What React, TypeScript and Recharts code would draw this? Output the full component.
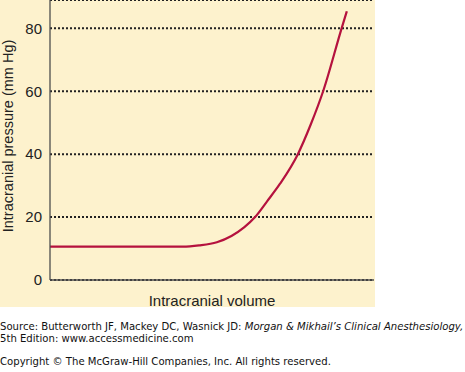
import React from "react";
import { LineChart, Line, XAxis, YAxis, CartesianGrid } from "recharts";

// (x: arbitrary volume units 0-100)
const volume = [0, 41, 46, 51.5, 56, 60, 63.3, 67, 71, 76.5, 80.5, 84.3, 90, 91.6];
const pressure = [10.6, 10.6, 11, 12, 14, 16.8, 20, 25, 30.6, 40, 49.5, 60, 80, 85.4];
const yTicks = [0, 20, 40, 60, 80];

const data = volume.map((v, i) => ({ volume: v, pressure: pressure[i] }));

const BEIGE = "#fdf2cd";
const RED = "#b5123e";
const AXIS = "#4d4d4d";
const TEXT = "#222";
const FONT = "'Liberation Sans', Arial, Helvetica, sans-serif";

const renderYLabel = (props: any) => {
  const { viewBox } = props;
  const x = viewBox.x + 13;
  const y = viewBox.y + viewBox.height / 2 - 4;
  return (
    <text
      x={x}
      y={y}
      transform={`rotate(-90, ${x}, ${y})`}
      textAnchor="middle"
      fill={TEXT}
      fontSize={14.5}
      fontFamily={FONT}
    >
      Intracranial pressure (mm Hg)
    </text>
  );
};

const renderXLabel = (props: any) => {
  const { viewBox } = props;
  return (
    <text
      x={viewBox.x + viewBox.width / 2}
      y={viewBox.y + 26}
      textAnchor="middle"
      fill={TEXT}
      fontSize={15}
      fontFamily={FONT}
    >
      Intracranial volume
    </text>
  );
};

export default function App() {
  return (
    <div
      style={{
        position: "absolute",
        left: 0,
        top: 0,
        width: 465,
        height: 372,
        background: "#fff",
        overflow: "hidden",
      }}
    >
      <div
        style={{
          position: "absolute",
          left: 0,
          top: 0,
          width: 375,
          height: 307,
          background: BEIGE,
        }}
      />
      <div style={{ position: "absolute", left: 0, top: 0 }}>
        <LineChart
          width={375}
          height={312}
          data={data}
          margin={{ top: 0, right: 1, left: 0, bottom: 0 }}
        >
          <CartesianGrid
            vertical={false}
            stroke="#222"
            strokeWidth={2}
            strokeDasharray="2 2"
          />
          <XAxis
            dataKey="volume"
            type="number"
            domain={[0, 100]}
            tick={false}
            tickLine={false}
            height={32}
            stroke={AXIS}
            strokeWidth={1.3}
            label={renderXLabel}
          />
          <YAxis
            type="number"
            domain={[0, 89]}
            ticks={yTicks}
            width={50}
            tickLine={false}
            tickSize={0}
            tickMargin={8}
            stroke={AXIS}
            strokeWidth={1.3}
            tick={{ fill: TEXT, fontSize: 15, fontFamily: FONT }}
            label={renderYLabel}
          />
          <Line
            type="monotone"
            dataKey="pressure"
            stroke={RED}
            strokeWidth={2.2}
            dot={false}
            isAnimationActive={false}
          />
        </LineChart>
      </div>
      <svg
        width={465}
        height={65}
        style={{ position: "absolute", left: 0, top: 307 }}
        fontFamily="'DejaVu Sans', Verdana, sans-serif"
        fontSize={10.1}
        fill="#111"
      >
        <text x={0} y={23}>
          Source: Butterworth JF, Mackey DC, Wasnick JD:{" "}
          <tspan fontStyle="italic">Morgan &amp; Mikhail’s Clinical Anesthesiology,</tspan>
        </text>
        <text x={0} y={35}>
          5th Edition: www.accessmedicine.com
        </text>
        <text x={0} y={57.5}>
          Copyright © The McGraw-Hill Companies, Inc. All rights reserved.
        </text>
      </svg>
    </div>
  );
}
